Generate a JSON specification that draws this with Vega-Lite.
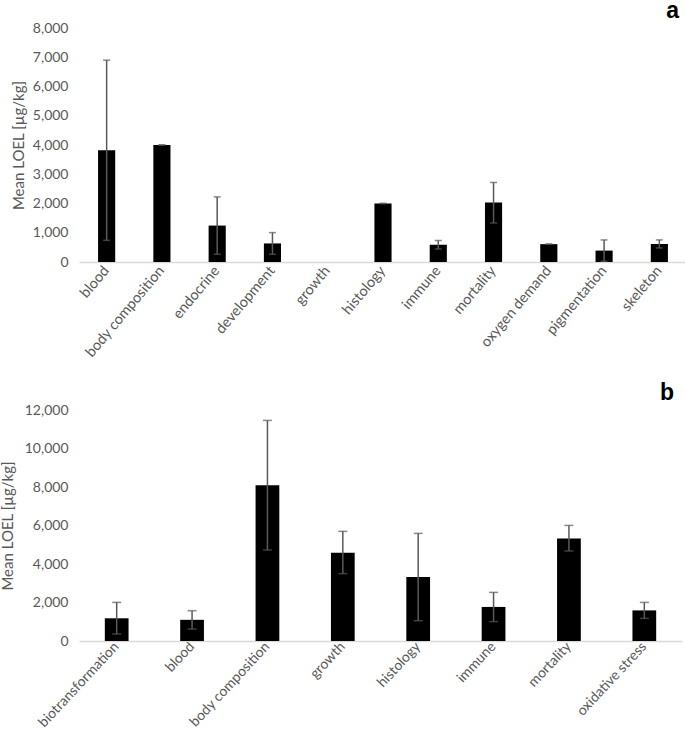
{
  "$schema": "https://vega.github.io/schema/vega-lite/v6.json",
  "padding": {"left": 0, "top": 0, "right": 0, "bottom": 0},
  "autosize": {"type": "pad"},
  "background": "white",
  "config": {
    "font": "Lato",
    "view": {"stroke": null},
    "axis": {"labelColor": "#595959", "titleColor": "#595959", "labelFont": "Lato", "titleFont": "Lato", "labelFontSize": 14, "titleFontSize": 15, "titleFontWeight": "normal", "grid": false, "ticks": false, "labelOverlap": false},
    "title": {"anchor": "end", "fontSize": 23, "fontWeight": "bold", "font": "Liberation Sans", "color": "#000000"}
  },
  "columns": 1,
  "align": "none",
  "spacing": 22,
  "concat": [
    {
      "title": {"text": "a", "dx": -8, "offset": -2},
      "width": 608,
      "height": 234,
      "data": {"values": [
        {"category": "blood", "mean": 3820, "lo": 740, "hi": 6900},
        {"category": "body composition", "mean": 4000, "lo": 4000, "hi": 4000},
        {"category": "endocrine", "mean": 1245, "lo": 265, "hi": 2225},
        {"category": "development", "mean": 635, "lo": 265, "hi": 1005},
        {"category": "growth", "mean": 0, "lo": null, "hi": null},
        {"category": "histology", "mean": 2000, "lo": 2000, "hi": 2000},
        {"category": "immune", "mean": 590, "lo": 445, "hi": 735},
        {"category": "mortality", "mean": 2030, "lo": 1335, "hi": 2720},
        {"category": "oxygen demand", "mean": 610, "lo": 610, "hi": 610},
        {"category": "pigmentation", "mean": 390, "lo": 25, "hi": 755},
        {"category": "skeleton", "mean": 615, "lo": 480, "hi": 755}
      ]},
      "encoding": {
        "x": {"field": "category", "type": "nominal", "sort": null,
          "scale": {"paddingInner": 0.69, "paddingOuter": 0.345},
          "axis": {"title": null, "labelAngle": -50, "labelFontSize": 14.5, "domainColor": "#d9d9d9", "domainWidth": 1.5, "labelPadding": 6}}
      },
      "layer": [
        {"mark": {"type": "bar", "color": "#000000"},
          "encoding": {"y": {"field": "mean", "type": "quantitative", "title": "Mean LOEL [µg/kg]", "scale": {"domain": [0, 8000]},
            "axis": {"values": [0, 1000, 2000, 3000, 4000, 5000, 6000, 7000, 8000], "format": ",d", "domain": false, "labelPadding": 11, "titlePadding": 6}}}},
        {"mark": {"type": "rule", "color": "#595959", "strokeWidth": 1.5},
          "encoding": {"y": {"field": "lo", "type": "quantitative", "title": "Mean LOEL [µg/kg]", "axis": {"values": [0, 1000, 2000, 3000, 4000, 5000, 6000, 7000, 8000], "format": ",d", "domain": false, "labelPadding": 11, "titlePadding": 6}}, "y2": {"field": "hi"}}},
        {"mark": {"type": "tick", "color": "#595959", "thickness": 1.5, "size": 7},
          "encoding": {"y": {"field": "lo", "type": "quantitative", "title": "Mean LOEL [µg/kg]", "axis": {"values": [0, 1000, 2000, 3000, 4000, 5000, 6000, 7000, 8000], "format": ",d", "domain": false, "labelPadding": 11, "titlePadding": 6}}}},
        {"mark": {"type": "tick", "color": "#595959", "thickness": 1.5, "size": 7},
          "encoding": {"y": {"field": "hi", "type": "quantitative", "title": "Mean LOEL [µg/kg]", "axis": {"values": [0, 1000, 2000, 3000, 4000, 5000, 6000, 7000, 8000], "format": ",d", "domain": false, "labelPadding": 11, "titlePadding": 6}}}}
      ]
    },
    {
      "title": {"text": "b", "dx": -8, "offset": -2},
      "width": 603,
      "height": 231,
      "data": {"values": [
        {"category": "biotransformation", "mean": 1180, "lo": 365, "hi": 2005},
        {"category": "blood", "mean": 1100, "lo": 620, "hi": 1575},
        {"category": "body composition", "mean": 8090, "lo": 4730, "hi": 11460},
        {"category": "growth", "mean": 4590, "lo": 3500, "hi": 5695},
        {"category": "histology", "mean": 3320, "lo": 1055, "hi": 5590},
        {"category": "immune", "mean": 1770, "lo": 1005, "hi": 2525},
        {"category": "mortality", "mean": 5330, "lo": 4675, "hi": 6005},
        {"category": "oxidative stress", "mean": 1590, "lo": 1175, "hi": 2005}
      ]},
      "encoding": {
        "x": {"field": "category", "type": "nominal", "sort": null,
          "scale": {"paddingInner": 0.685, "paddingOuter": 0.3425},
          "axis": {"title": null, "labelAngle": -47, "labelFontSize": 14, "domainColor": "#d9d9d9", "domainWidth": 1.5, "labelPadding": 3}}
      },
      "layer": [
        {"mark": {"type": "bar", "color": "#000000"},
          "encoding": {"y": {"field": "mean", "type": "quantitative", "title": "Mean LOEL [µg/kg]", "scale": {"domain": [0, 12000]},
            "axis": {"values": [0, 2000, 4000, 6000, 8000, 10000, 12000], "format": ",d", "domain": false, "labelPadding": 11, "titlePadding": 9}}}},
        {"mark": {"type": "rule", "color": "#595959", "strokeWidth": 1.5},
          "encoding": {"y": {"field": "lo", "type": "quantitative", "title": "Mean LOEL [µg/kg]", "axis": {"values": [0, 2000, 4000, 6000, 8000, 10000, 12000], "format": ",d", "domain": false, "labelPadding": 11, "titlePadding": 9}}, "y2": {"field": "hi"}}},
        {"mark": {"type": "tick", "color": "#595959", "thickness": 1.5, "size": 9},
          "encoding": {"y": {"field": "lo", "type": "quantitative", "title": "Mean LOEL [µg/kg]", "axis": {"values": [0, 2000, 4000, 6000, 8000, 10000, 12000], "format": ",d", "domain": false, "labelPadding": 11, "titlePadding": 9}}}},
        {"mark": {"type": "tick", "color": "#595959", "thickness": 1.5, "size": 9},
          "encoding": {"y": {"field": "hi", "type": "quantitative", "title": "Mean LOEL [µg/kg]", "axis": {"values": [0, 2000, 4000, 6000, 8000, 10000, 12000], "format": ",d", "domain": false, "labelPadding": 11, "titlePadding": 9}}}}
      ]
    }
  ]
}
